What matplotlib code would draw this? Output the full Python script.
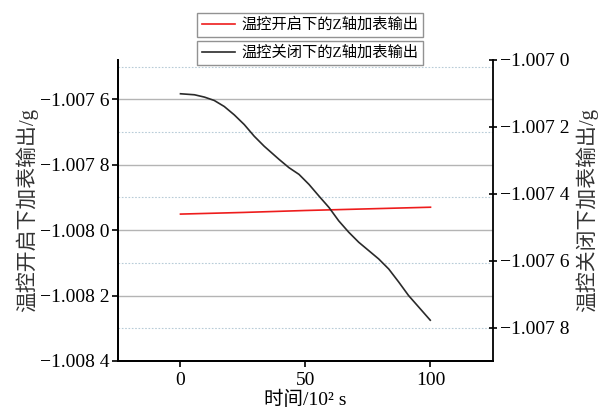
import numpy as np
import matplotlib
matplotlib.use("Agg")
import matplotlib.pyplot as plt
from matplotlib.ticker import FuncFormatter, MultipleLocator, FixedLocator

plt.rcParams['font.family'] = ['Liberation Serif', 'Noto Sans CJK SC']
plt.rcParams['axes.unicode_minus'] = True

# temperature control on (left axis)
t_on = [0, 25, 50, 75, 100]
z_on = [-1.007951, -1.007946, -1.007940, -1.007935, -1.007930]

# temperature control off (right axis)
t_off = [0, 5.6, 9.6, 13.5, 17.5, 21.5, 25.5, 29.5, 33.5, 39.4, 43.4, 47.4,
         51.4, 55.4, 59.4, 63.3, 67.3, 71.3, 75.3, 79.3, 83.3, 87.3, 91.2,
         95.2, 99.9]
z_off = [-1.007101, -1.007104, -1.007111, -1.007121, -1.007139, -1.007164,
         -1.007193, -1.007228, -1.007258, -1.007297, -1.007322, -1.007342,
         -1.007372, -1.007407, -1.007441, -1.007481, -1.007515, -1.007545,
         -1.007570, -1.007595, -1.007625, -1.007664, -1.007704, -1.007738,
         -1.007778]

left_ticks = [-1.0084, -1.0082, -1.0080, -1.0078, -1.0076]
right_ticks = [-1.0078, -1.0076, -1.0074, -1.0072, -1.0070]
x_ticks = [0, 50, 100]

label_on = "温控开启下的Z轴加表输出"
label_off = "温控关闭下的Z轴加表输出"


def fmt(v, pos):
    s = f"{v:.4f}"
    s = s[:-1] + " " + s[-1]
    return s.replace("-", "\u2212")


fig = plt.figure(figsize=(6.01, 4.12), dpi=100)
ax = fig.add_axes([0.1963, 0.1238, 0.6240, 0.7306])
ax2 = ax.twinx()

ax.set_xlim(-25, 125)
ax.set_ylim(-1.0084, -1.00748)
ax2.set_ylim(-1.0079, -1.0070)

ax.yaxis.set_major_locator(FixedLocator(left_ticks))
ax.yaxis.set_minor_locator(MultipleLocator(0.0001))
ax2.yaxis.set_major_locator(FixedLocator(right_ticks))
ax.xaxis.set_major_locator(FixedLocator(x_ticks))
ax.yaxis.set_major_formatter(FuncFormatter(fmt))
ax2.yaxis.set_major_formatter(FuncFormatter(fmt))

ax.grid(which='major', axis='y', color='#b4b4b4', lw=1.0, ls='-')
ax.grid(which='minor', axis='y', color='#b8ccd8', lw=0.8, ls=(0, (1.5, 1.5)))
ax.set_axisbelow(True)

l1, = ax.plot(t_on, z_on, color='#ee1c1c', lw=1.2)
l2, = ax2.plot(t_off, z_off, color='#2a2a2a', lw=1.2)

for a in (ax, ax2):
    a.spines['top'].set_visible(False)
    for s in a.spines.values():
        s.set_linewidth(1.3)
ax.spines['right'].set_visible(False)

ax.tick_params(axis='y', which='major', direction='out', length=4, width=1.2,
               labelsize=14, pad=2)
ax.tick_params(axis='y', which='minor', length=0)
ax.tick_params(axis='x', direction='out', length=4, width=1.2, labelsize=14, pad=4)
ax2.tick_params(axis='y', direction='inout', length=6, width=1.2, labelsize=14, pad=2)

ax.set_xlabel("时间/10² s", fontsize=14, labelpad=1)
ax.set_ylabel("温控开启下加表输出/g", fontsize=15, color='#333333', labelpad=1)
ax2.set_ylabel("温控关闭下加表输出/g", fontsize=15, color='#333333', labelpad=4)

leg_kw = dict(loc='upper center', fontsize=11, frameon=True, fancybox=False,
              edgecolor='#777777', borderpad=0.3, handlelength=2.2,
              handletextpad=0.4, borderaxespad=0)
leg1 = fig.legend([l1], [label_on], bbox_to_anchor=(0.516, 0.968), **leg_kw)
leg2 = fig.legend([l2], [label_off], bbox_to_anchor=(0.516, 0.900), **leg_kw)
for lg in (leg1, leg2):
    lg.get_frame().set_linewidth(1.0)
    lg.set_zorder(10)

fig.savefig("out.png", dpi=100)
